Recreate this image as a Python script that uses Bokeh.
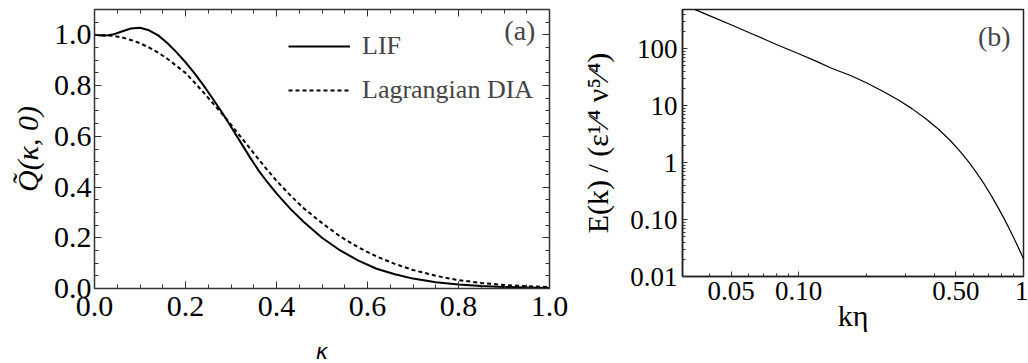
from bokeh.plotting import figure
from bokeh.layouts import row
from bokeh.models import (Range1d, LinearAxis, SingleIntervalTicker, FixedTicker,
                          Label, Legend, LegendItem, PrintfTickFormatter)
from bokeh.embed import file_html
from bokeh.resources import INLINE

# ---------------- data: panel (a) ----------------
kappa = [0.0, 0.02, 0.04, 0.06, 0.08, 0.10, 0.12, 0.14, 0.16, 0.18, 0.20, 0.22, 0.24,
         0.26, 0.28, 0.30, 0.32, 0.34, 0.36, 0.38, 0.40, 0.43, 0.46, 0.50, 0.54, 0.58,
         0.62, 0.66, 0.70, 0.75, 0.80, 0.85, 0.90, 0.95, 1.00]
q_lif = [1.000, 0.996, 1.001, 1.013, 1.025, 1.028, 1.018, 0.998, 0.968, 0.932, 0.892,
         0.848, 0.800, 0.748, 0.695, 0.638, 0.580, 0.522, 0.467, 0.419, 0.375, 0.315,
         0.262, 0.200, 0.150, 0.110, 0.078, 0.056, 0.039, 0.025, 0.016, 0.010, 0.006,
         0.004, 0.002]
q_dia = [1.000, 0.999, 0.996, 0.990, 0.980, 0.967, 0.950, 0.930, 0.906, 0.878, 0.850,
         0.812, 0.772, 0.731, 0.690, 0.646, 0.601, 0.556, 0.511, 0.467, 0.425, 0.368,
         0.316, 0.258, 0.205, 0.162, 0.126, 0.097, 0.073, 0.050, 0.033, 0.022, 0.014,
         0.009, 0.006]
series_names = ["LIF", "Lagrangian DIA"]

# ---------------- data: panel (b) ----------------
k_eta = [0.0346, 0.04, 0.05, 0.06, 0.07, 0.08, 0.10, 0.12, 0.14, 0.17, 0.20, 0.24, 0.28,
         0.32, 0.37, 0.42, 0.47, 0.52, 0.57, 0.62, 0.67, 0.72, 0.77, 0.82, 0.87, 0.92,
         0.97, 1.00]
energy = [487, 382, 264, 193, 149, 118, 82, 60, 45.5, 34, 25.3, 17.4, 12.3, 8.8, 5.8,
          3.83, 2.50, 1.61, 1.03, 0.654, 0.414, 0.261, 0.164, 0.104, 0.0657, 0.0418,
          0.0267, 0.0204]

a_tick_interval = 0.2
b_x_ticks = [0.05, 0.1, 0.5, 1.0]
b_x_labels = ["0.05", "0.10", "0.50", "1"]
b_x_minor = [0.04, 0.06, 0.07, 0.08, 0.09, 0.2, 0.3, 0.4, 0.6, 0.7, 0.8, 0.9]
b_y_ticks = [0.01, 0.1, 1.0, 10.0, 100.0]
b_y_labels = ["0.01", "0.10", "1", "10", "100"]
b_y_minor = [m * d for d in (0.01, 0.1, 1.0, 10.0) for m in range(2, 10)] + [200.0, 300.0, 400.0]

SERIF = "Liberation Serif"
AX = "#333333"
H1 = 375   # the kappa label runs past the window bottom, as in the reference
H2 = 363


def style_axis(ax, maj_in, min_in, lw, font_size):
    ax.axis_line_color = AX
    ax.axis_line_width = lw
    ax.major_tick_line_color = AX
    ax.minor_tick_line_color = AX
    ax.major_tick_in = maj_in
    ax.major_tick_out = 0
    ax.minor_tick_in = min_in
    ax.minor_tick_out = 0
    ax.major_label_text_font = SERIF
    ax.major_label_text_color = "black"
    ax.major_label_text_font_size = font_size


# ---------------- panel (a) ----------------
p1 = figure(width=578, height=H1, x_range=Range1d(0, 1), y_range=Range1d(0, 1.1),
            output_backend="svg", toolbar_location=None,
            min_border_left=94, min_border_right=29, min_border_top=8, min_border_bottom=H1 - 288)
p1.grid.visible = False
p1.outline_line_color = None

r_lif = p1.line(kappa, q_lif, line_color="black", line_width=2)
r_dia = p1.line(kappa, q_dia, line_color="black", line_width=2, line_dash="4 3")

tk = SingleIntervalTicker(interval=a_tick_interval, num_minor_ticks=4)
fmt = PrintfTickFormatter(format="%.1f")
for ax in (p1.xaxis[0], p1.yaxis[0]):
    ax.ticker = tk
    ax.formatter = fmt
    style_axis(ax, 7, 4, 1.5, "30px")
p1.xaxis.major_label_standoff = 8
p1.yaxis.major_label_standoff = 3

p1.xaxis.axis_label = "κ"
p1.xaxis.axis_label_text_font = "DejaVu Sans"
p1.xaxis.axis_label_text_font_style = "italic"
p1.xaxis.axis_label_text_font_size = "21px"
p1.xaxis.axis_label_text_color = "black"
p1.xaxis.axis_label_standoff = 21

p1.yaxis.axis_label = "Q̃(κ, 0)"
p1.yaxis.axis_label_text_font = SERIF
p1.yaxis.axis_label_text_font_style = "italic"
p1.yaxis.axis_label_text_font_size = "30px"
p1.yaxis.axis_label_text_color = "black"
p1.yaxis.axis_label_standoff = 7

for side in ("above", "right"):
    ax = LinearAxis(ticker=tk)
    style_axis(ax, 7, 4, 1.5, "1px")
    ax.major_label_text_color = None
    ax.major_label_standoff = 0
    p1.add_layout(ax, side)

legend = Legend(items=[LegendItem(label=series_names[0], renderers=[r_lif]),
                       LegendItem(label=series_names[1], renderers=[r_dia])],
                location=(194, 183), orientation="vertical")
legend.label_text_font = SERIF
legend.label_text_font_size = "26px"
legend.label_height = 30
legend.glyph_height = 30
legend.glyph_width = 62
legend.spacing = 14
legend.padding = 0
legend.margin = 0
legend.label_standoff = 12
legend.border_line_color = None
legend.background_fill_alpha = 0
p1.add_layout(legend)

p1.add_layout(Label(x=0.969, y=1.016, text="(a)", text_font=SERIF, text_font_size="28px",
                    text_align="right", text_baseline="alphabetic"))

# ---------------- panel (b) ----------------
p2 = figure(width=450, height=H2, x_axis_type="log", y_axis_type="log",
            x_range=Range1d(0.0304, 1.0), y_range=Range1d(0.01, 490),
            output_backend="svg", toolbar_location=None,
            min_border_left=99, min_border_right=5, min_border_top=9, min_border_bottom=H2 - 283)
p2.grid.visible = False
p2.outline_line_color = "#222222"
p2.outline_line_width = 1.5

p2.line(k_eta, energy, line_color="black", line_width=1.2)

p2.xaxis.ticker = FixedTicker(ticks=b_x_ticks, minor_ticks=b_x_minor)
p2.xaxis.major_label_overrides = dict(zip(b_x_ticks, b_x_labels))
p2.yaxis.ticker = FixedTicker(ticks=b_y_ticks, minor_ticks=b_y_minor)
p2.yaxis.major_label_overrides = dict(zip(b_y_ticks, b_y_labels))
for ax in (p2.xaxis[0], p2.yaxis[0]):
    style_axis(ax, 5, 3, 1.5, "27px")
    ax.axis_line_color = "#222222"
p2.xaxis.major_label_standoff = 5
p2.yaxis.major_label_standoff = 5

p2.xaxis.axis_label = "kη"
p2.xaxis.axis_label_text_font = SERIF
p2.xaxis.axis_label_text_font_style = "normal"
p2.xaxis.axis_label_text_font_size = "30px"
p2.xaxis.axis_label_text_color = "black"
p2.xaxis.axis_label_standoff = -4

p2.yaxis.axis_label = "E(k) / (ε¹⁄⁴ ν⁵⁄⁴)"
p2.yaxis.axis_label_text_font = SERIF
p2.yaxis.axis_label_text_font_style = "normal"
p2.yaxis.axis_label_text_font_size = "30px"
p2.yaxis.axis_label_text_color = "black"
p2.yaxis.axis_label_standoff = 13

p2.add_layout(Label(x=0.877, y=165, text="(b)", text_font=SERIF, text_font_size="28px",
                    text_align="right", text_baseline="alphabetic"))

layout = row(p1, p2)
open("out.html", "w").write(file_html(layout, INLINE))
